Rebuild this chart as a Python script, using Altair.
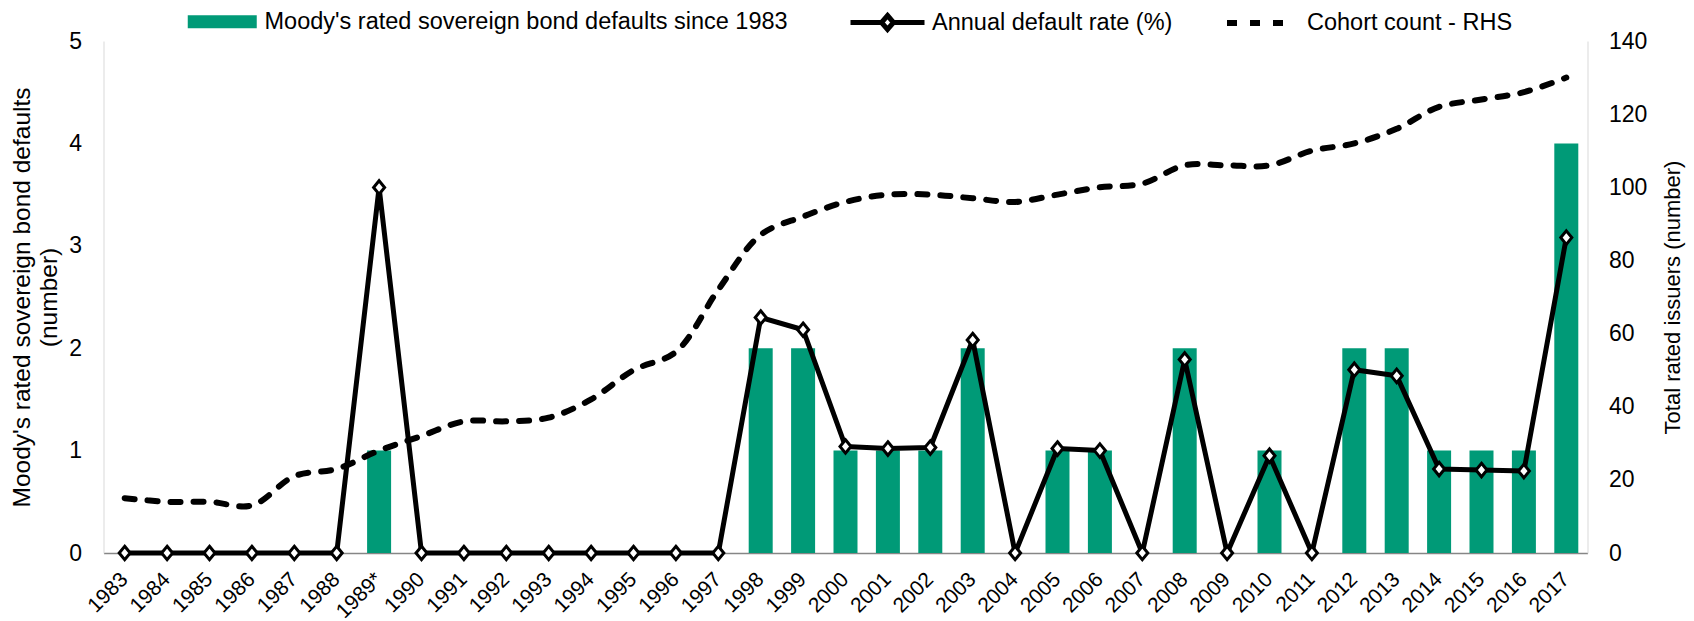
import altair as alt
import pandas as pd

years = ["1983", "1984", "1985", "1986", "1987", "1988", "1989*", "1990", "1991", "1992",
         "1993", "1994", "1995", "1996", "1997", "1998", "1999", "2000", "2001", "2002",
         "2003", "2004", "2005", "2006", "2007", "2008", "2009", "2010", "2011", "2012",
         "2013", "2014", "2015", "2016", "2017"]
defaults = [0, 0, 0, 0, 0, 0, 1, 0, 0, 0,
            0, 0, 0, 0, 0, 2, 2, 1, 1, 1,
            2, 0, 1, 1, 0, 2, 0, 1, 0, 2,
            2, 1, 1, 1, 4]
rate = [0, 0, 0, 0, 0, 0, 3.57, 0, 0, 0,
        0, 0, 0, 0, 0, 2.30, 2.18, 1.04, 1.02, 1.03,
        2.08, 0, 1.02, 1.00, 0, 1.89, 0, 0.95, 0, 1.79,
        1.73, 0.82, 0.81, 0.80, 3.08]
cohort = [15, 14, 14, 13, 21, 23, 28, 32, 36, 36,
          37, 42, 50, 55, 72, 87, 92, 96, 98, 98,
          97, 96, 98, 100, 101, 106, 106, 106, 110, 112,
          116, 122, 124, 126, 130]

BAR_LABEL = "Moody's rated sovereign bond defaults since 1983"
RATE_LABEL = "Annual default rate (%)"
COHORT_LABEL = "Cohort count - RHS"
LEFT_TITLE = ["Moody's rated sovereign bond defaults", "(number)"]
RIGHT_TITLE = "Total rated issuers (number)"

df = pd.DataFrame({
    "year": years, "defaults": defaults, "rate": rate, "cohort": cohort,
    "bar_s": BAR_LABEL, "rate_s": RATE_LABEL, "cohort_s": COHORT_LABEL,
})

FONT = "Liberation Sans, Arial, sans-serif"
FS = 23
LEG_FS = 23.5
GREEN = "#009A77"
VIEW_X, VIEW_Y = 103.5, 41
LEG_Y = -31

x = alt.X("year:N", sort=years, title=None,
          scale=alt.Scale(paddingInner=0.434, paddingOuter=0.217),
          axis=alt.Axis(labelAngle=315, labelAlign="right", labelBaseline="middle",
                        labelPadding=23, labelOffset=0, labelFontSize=21,
                        ticks=False, grid=False,
                        domainColor="#868686", domainWidth=1.3,
                        labelOverlap=False, labelFlush=False))

left_scale = alt.Scale(domain=[0, 5], nice=False, zero=True)

bars = alt.Chart(df).mark_bar(strokeWidth=0).encode(
    x=x,
    y=alt.Y("defaults:Q", scale=left_scale,
            axis=alt.Axis(orient="left", values=[0, 1, 2, 3, 4, 5], title=LEFT_TITLE,
                          ticks=False, grid=False, domainColor="#d9d9d9",
                          labelPadding=22, titleAngle=270, titleBaseline="top",
                          titleAlign="center", titleX=10 - VIEW_X, titleY=256,
                          titleFontSize=24.5, titleLineHeight=27)),
    color=alt.Color("bar_s:N", scale=alt.Scale(domain=[BAR_LABEL], range=[GREEN]),
                    legend=alt.Legend(orient="none", legendX=220.5 - 10 - VIEW_X,
                                      legendY=LEG_Y, title=None,
                                      symbolType="M-3.45,-0.65H3.45V0.65H-3.45Z",
                                      symbolSize=400, symbolStrokeWidth=0,
                                      labelOffset=30.5)),
)

cohort_line = alt.Chart(df).mark_line(color="black", strokeWidth=6, strokeCap="round",
                                      interpolate="catmull-rom").encode(
    x=x,
    y=alt.Y("cohort:Q", scale=alt.Scale(domain=[0, 140], nice=False),
            axis=alt.Axis(orient="right", values=list(range(0, 141, 20)), title=RIGHT_TITLE,
                          ticks=False, grid=False, domainColor="#d9d9d9",
                          labelPadding=21, titleAngle=270, titleBaseline="middle",
                          titleAlign="center", titleX=85, titleY=256,
                          titleFontSize=22)),
    strokeDash=alt.StrokeDash("cohort_s:N",
                              scale=alt.Scale(domain=[COHORT_LABEL], range=[[10, 13]]),
                              legend=alt.Legend(orient="none", legendX=1256.5 - 10 - VIEW_X,
                                                legendY=LEG_Y, title=None,
                                                symbolType="M-3.25,0H3.25",
                                                symbolSize=400, symbolStrokeWidth=6,
                                                symbolStrokeColor="black",
                                                labelOffset=34.5)),
)

rate_line = alt.Chart(df).mark_line(strokeWidth=5, strokeJoin="round").encode(
    x=x,
    y=alt.Y("rate:Q", scale=left_scale, axis=None),
    stroke=alt.Stroke("rate_s:N", scale=alt.Scale(domain=[RATE_LABEL], range=["#000000"]),
                      legend=alt.Legend(orient="none", legendX=885 - 10 - VIEW_X,
                                        legendY=LEG_Y, title=None,
                                        symbolType="M-3.7,0H-0.6M0.6,0H3.7M0,-0.7L0.6,0L0,0.7L-0.6,0Z",
                                        symbolSize=400, symbolStrokeWidth=5,
                                        symbolFillColor="white",
                                        labelOffset=32)),
)

rate_pts = alt.Chart(df).mark_point(shape="M0,-1.1L0.9,0L0,1.1L-0.9,0Z", size=150,
                                    filled=True, fill="white", stroke="black",
                                    strokeWidth=3, opacity=1).encode(
    x=x,
    y=alt.Y("rate:Q", scale=left_scale, axis=None),
)

chart = alt.layer(bars, cohort_line, rate_line, rate_pts).resolve_scale(
    y="independent"
).properties(
    width=1484, height=512,
    autosize=alt.AutoSizeParams(type="none"),
    padding={"left": VIEW_X - 8, "top": VIEW_Y - 8, "right": 98.5, "bottom": 68},
).configure_view(stroke=None).configure_axis(
    labelFont=FONT, labelFontSize=FS, labelColor="#000000",
    titleFont=FONT, titleFontSize=FS, titleColor="#000000", titleFontWeight="normal",
).configure_legend(
    labelFont=FONT, labelFontSize=LEG_FS, labelColor="#000000", padding=0,
    labelLimit=0,
)

chart.save("out.html", embed_options={"renderer": "svg", "actions": False})
